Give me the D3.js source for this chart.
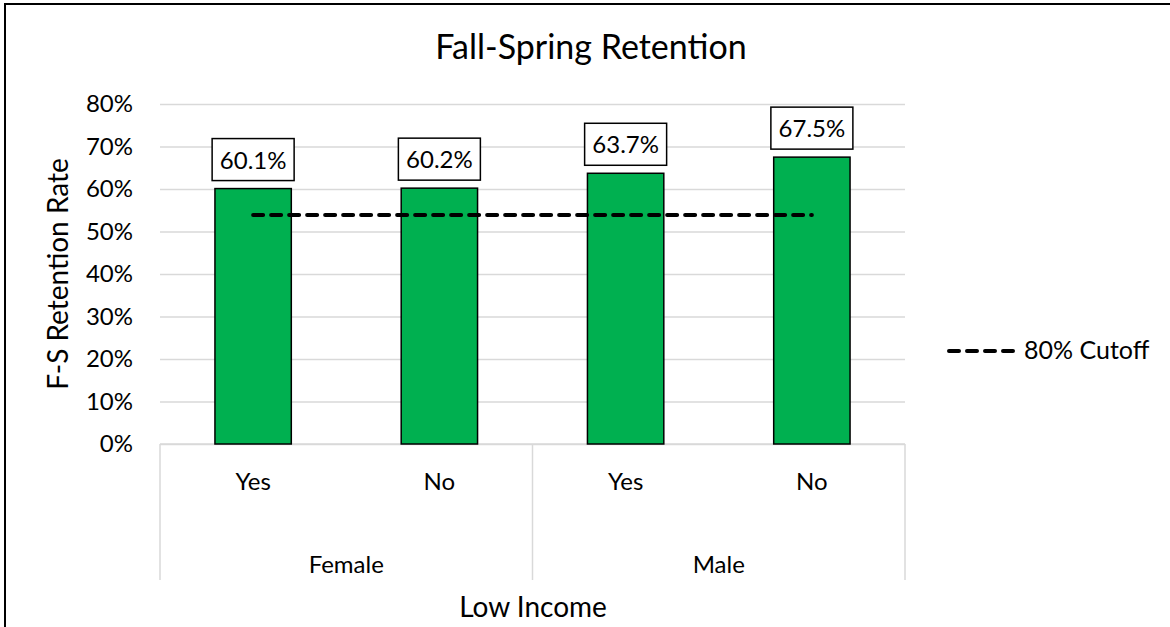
<!DOCTYPE html>
<html>
<head>
    <title>Fall-Spring Retention</title>
    <script src="https://d3js.org/d3.v7.min.js"></script>
    <style>
        body { margin: 0; background: #fff; }
        svg text { font-family: Lato, "Open Sans", sans-serif; fill: #000; }
    </style>
</head>
<body>
<svg id="chart" width="1170" height="627"></svg>
<script>
    ////////////////////////////// DATA //////////////////////////////
    var genders   = ["Female", "Female", "Male", "Male"];
    var lowIncome = ["Yes", "No", "Yes", "No"];
    var retention = [0.601, 0.602, 0.637, 0.675];
    var cutoff    = [0.539, 0.539, 0.539, 0.539];
    var yTicks    = [0, 0.1, 0.2, 0.3, 0.4, 0.5, 0.6, 0.7, 0.8];
    var groups    = ["Female", "Male"];

    var rows = lowIncome.map(function (d, i) {
        return { key: i, gender: genders[i], income: d, value: retention[i], cut: cutoff[i] };
    });

    ////////////////////////////// LAYOUT //////////////////////////////
    var svg = d3.select("#chart");
    // note: "top" is a reserved window global, so use plot* names
    var plotLeft = 160, plotRight = 905, plotTop = 104, plotBottom = 444;

    // outer frame
    svg.append("rect")
        .attr("x", 5).attr("y", 4)
        .attr("width", 1180).attr("height", 650)
        .attr("fill", "none")
        .attr("stroke", "#000")
        .attr("stroke-width", 2);

    var x = d3.scaleBand()
        .domain(rows.map(function (d) { return d.key; }))
        .range([plotLeft, plotRight])
        .paddingInner(0.59)
        .paddingOuter(0.295);

    var y = d3.scaleLinear()
        .domain([0, 0.8])
        .range([plotBottom, plotTop]);

    // gridlines + tick labels
    var yAxis = d3.axisLeft(y)
        .tickValues(yTicks)
        .tickFormat(d3.format(".0%"))
        .tickSize(-(plotRight - plotLeft))
        .tickPadding(27);

    var gy = svg.append("g")
        .attr("transform", "translate(" + plotLeft + ",0)")
        .call(yAxis);
    gy.select(".domain").remove();
    gy.selectAll(".tick line").attr("stroke", "#d9d9d9").attr("stroke-width", 1.5);
    gy.selectAll(".tick text")
        .style("font-size", "24px")
        .attr("fill", "#000");

    // category axis lines
    var step = (plotRight - plotLeft) / rows.length;
    svg.append("line")
        .attr("x1", plotLeft).attr("x2", plotRight)
        .attr("y1", plotBottom).attr("y2", plotBottom)
        .attr("stroke", "#d9d9d9").attr("stroke-width", 1.5);

    var dividers = [plotLeft, plotLeft + step * 2, plotRight];
    svg.selectAll(".divider")
        .data(dividers)
        .enter()
        .append("line")
        .attr("class", "divider")
        .attr("x1", function (d) { return d; })
        .attr("x2", function (d) { return d; })
        .attr("y1", plotBottom)
        .attr("y2", 580)
        .attr("stroke", "#d9d9d9").attr("stroke-width", 1.5);

    // bars
    svg.selectAll(".bar")
        .data(rows)
        .enter()
        .append("rect")
        .attr("class", "bar")
        .attr("x", function (d) { return x(d.key); })
        .attr("y", function (d) { return y(d.value); })
        .attr("width", x.bandwidth())
        .attr("height", function (d) { return y(0) - y(d.value); })
        .attr("fill", "#00b050")
        .attr("stroke", "#000")
        .attr("stroke-width", 1.5);

    // cutoff line
    var line = d3.line()
        .x(function (d) { return x(d.key) + x.bandwidth() / 2; })
        .y(function (d) { return y(d.cut); });

    svg.append("path")
        .datum(rows)
        .attr("d", line)
        .attr("fill", "none")
        .attr("stroke", "#000")
        .attr("stroke-width", 4)
        .attr("stroke-linecap", "round")
        .attr("stroke-dasharray", "10,8");

    // value labels in boxes
    var labels = svg.selectAll(".lbl")
        .data(rows)
        .enter()
        .append("g")
        .attr("class", "lbl")
        .attr("transform", function (d) {
            return "translate(" + (x(d.key) + x.bandwidth() / 2) + "," + (y(d.value) - 8) + ")";
        });

    labels.append("rect")
        .attr("x", -41).attr("y", -42)
        .attr("width", 82).attr("height", 42)
        .attr("fill", "#fff")
        .attr("stroke", "#000")
        .attr("stroke-width", 1.5);

    labels.append("text")
        .attr("text-anchor", "middle")
        .attr("y", -12)
        .style("font-size", "24px")
        .text(function (d) { return d3.format(".1%")(d.value); });

    // category labels
    svg.selectAll(".inc")
        .data(rows)
        .enter()
        .append("text")
        .attr("class", "inc")
        .attr("x", function (d) { return x(d.key) + x.bandwidth() / 2; })
        .attr("y", 490)
        .attr("text-anchor", "middle")
        .style("font-size", "24px")
        .text(function (d) { return d.income; });

    svg.selectAll(".grp")
        .data(groups)
        .enter()
        .append("text")
        .attr("class", "grp")
        .attr("x", function (d, i) { return plotLeft + step * (2 * i + 1); })
        .attr("y", 573)
        .attr("text-anchor", "middle")
        .style("font-size", "24px")
        .text(function (d) { return d; });

    // titles
    svg.append("text")
        .attr("x", 591).attr("y", 59)
        .attr("text-anchor", "middle")
        .style("font-size", "34px")
        .text("Fall-Spring Retention");

    svg.append("text")
        .attr("x", 533).attr("y", 617)
        .attr("text-anchor", "middle")
        .style("font-size", "28px")
        .text("Low Income");

    svg.append("text")
        .attr("transform", "translate(68," + ((plotTop + plotBottom) / 2) + ") rotate(-90)")
        .attr("text-anchor", "middle")
        .style("font-size", "28px")
        .text("F-S Retention Rate");

    // legend
    var lg = svg.append("g").attr("transform", "translate(949,351)");
    lg.append("line")
        .attr("x1", 0).attr("x2", 64)
        .attr("stroke", "#000")
        .attr("stroke-width", 4)
        .attr("stroke-linecap", "round")
        .attr("stroke-dasharray", "10,8");
    lg.append("text")
        .attr("x", 75).attr("y", 8)
        .style("font-size", "25px")
        .text("80% Cutoff");
</script>
</body>
</html>
